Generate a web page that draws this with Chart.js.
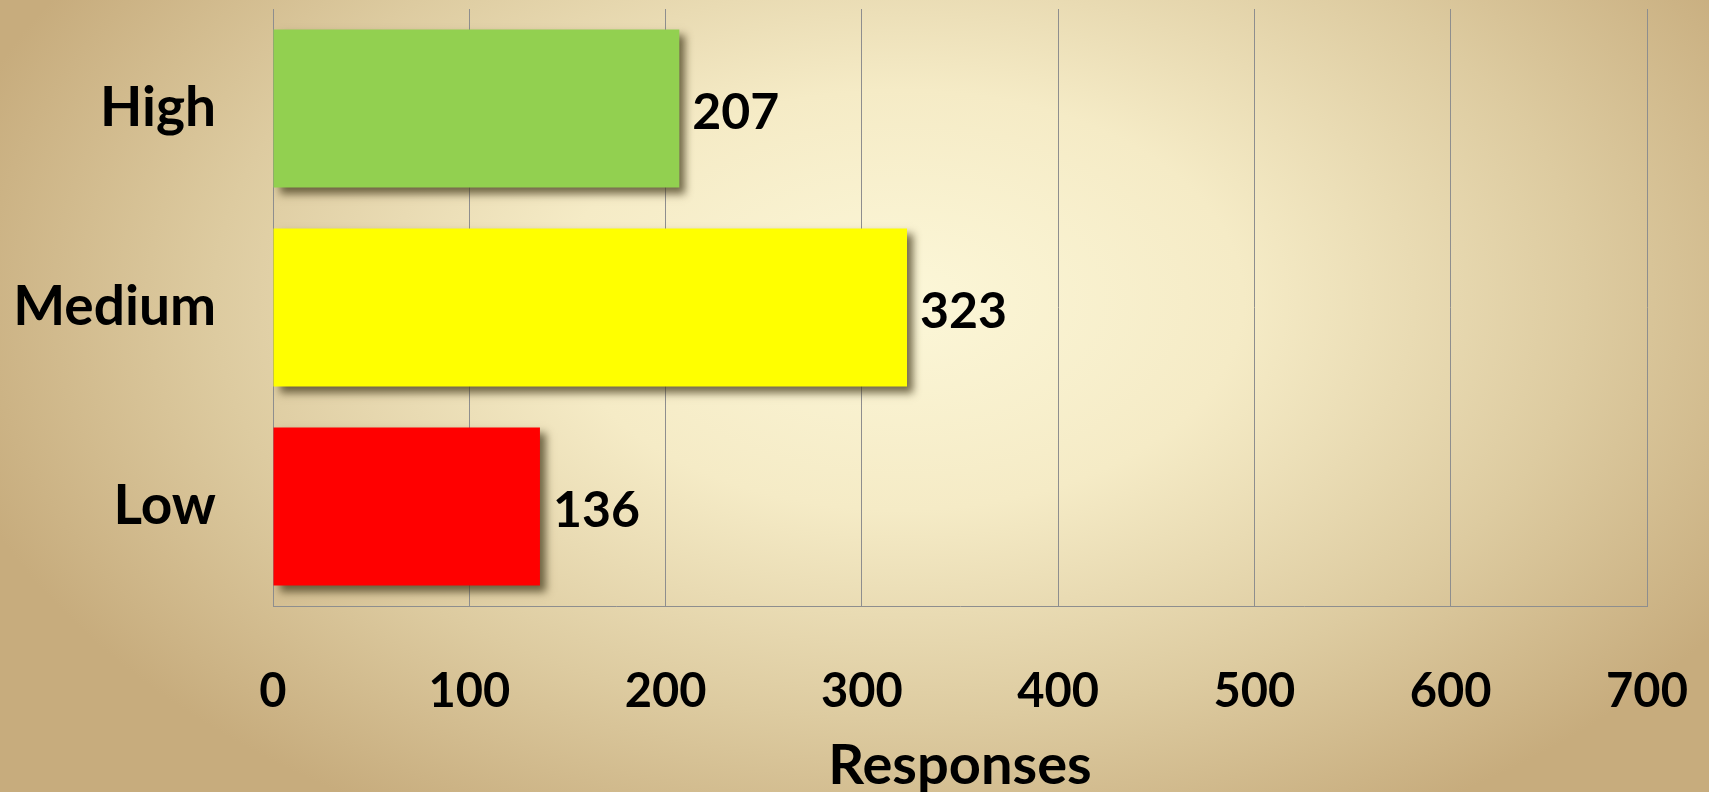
<!DOCTYPE html>
<html>
<head>
<meta charset="utf-8">
<script src="https://cdn.jsdelivr.net/npm/chart.js@4"></script>
<style>
html,body{margin:0;padding:0;overflow:hidden;background:#e6d6ad;}
#wrap{width:1709px;height:792px;}
</style>
</head>
<body>
<div id="wrap"><canvas id="c" width="1709" height="792"></canvas></div>
<script>
const categories = ["High", "Medium", "Low"];
const responses = [207, 323, 136];
const barColors = ["#92D050", "#FFFF00", "#FF0000"];
const xTicks = [0, 100, 200, 300, 400, 500, 600, 700];
const axisTitle = "Responses";

const FONT = "Lato, 'Open Sans', sans-serif";

const bgPlugin = {
  id: 'bg',
  beforeDraw(chart) {
    const ctx = chart.ctx, w = chart.width, h = chart.height;
    ctx.save();
    const cx = 900, cy = 300, rx = 980, ry = 600;
    ctx.translate(cx, cy);
    ctx.scale(1, ry / rx);
    const g = ctx.createRadialGradient(0, 0, 0, 0, 0, rx);
    g.addColorStop(0, '#FCF7D8');
    g.addColorStop(0.35, '#F5EBC6');
    g.addColorStop(0.7, '#DDCBA0');
    g.addColorStop(1, '#C7AC7D');
    ctx.fillStyle = g;
    ctx.fillRect(-cx - 10, -cy * rx / ry - 10, w + 20, h * rx / ry + 20);
    ctx.restore();
  }
};

const shadowPlugin = {
  id: 'barShadow',
  beforeDatasetsDraw(chart) {
    const ctx = chart.ctx;
    ctx.save();
    ctx.shadowColor = 'rgba(70,60,30,0.75)';
    ctx.shadowBlur = 8;
    ctx.shadowOffsetX = 6;
    ctx.shadowOffsetY = 6;
  },
  afterDatasetsDraw(chart) {
    chart.ctx.restore();
    const ctx = chart.ctx;
    const meta = chart.getDatasetMeta(0);
    ctx.save();
    ctx.font = "bold 50px " + FONT;
    ctx.fillStyle = '#000';
    ctx.textAlign = 'left';
    ctx.textBaseline = 'middle';
    meta.data.forEach((bar, i) => {
      ctx.fillText(String(responses[i]), bar.x + 13, bar.y + 4);
    });
    ctx.restore();
  }
};

new Chart(document.getElementById('c'), {
  type: 'bar',
  data: {
    labels: categories,
    datasets: [{
      data: responses,
      backgroundColor: barColors,
      borderWidth: 0,
      categoryPercentage: 1,
      barPercentage: 0.794
    }]
  },
  options: {
    indexAxis: 'y',
    responsive: false,
    animation: false,
    devicePixelRatio: 1,
    layout: { padding: { left: 0, right: 62, top: 9, bottom: 0 } },
    plugins: { legend: { display: false }, tooltip: { enabled: false } },
    scales: {
      x: {
        min: 0, max: 700,
        afterBuildTicks(scale) { scale.ticks = xTicks.map(v => ({ value: v })); },
        afterFit(scale) { scale.height = 186; scale.paddingLeft = 0; scale.paddingRight = 0; },
        grid: { color: '#8e8e8e', lineWidth: 1, drawTicks: true, tickLength: 58, tickColor: 'rgba(0,0,0,0)' },
        border: { display: true, color: '#8e8e8e', width: 1 },
        ticks: { color: '#000', font: { family: FONT, size: 47, weight: 'bold' }, padding: 0, maxRotation: 0, autoSkip: false },
        title: { display: true, text: axisTitle, color: '#000', font: { family: FONT, size: 56, weight: 'bold' }, padding: { top: 0, bottom: -8 } }
      },
      y: {
        afterFit(scale) { scale.width = 273; scale.paddingTop = 0; scale.paddingBottom = 0; },
        grid: { display: false, drawTicks: true, tickLength: 57 },
        border: { display: true, color: '#8e8e8e', width: 1 },
        ticks: { color: '#000', font: { family: FONT, size: 55, weight: 'bold' }, padding: 0 }
      }
    }
  },
  plugins: [bgPlugin, shadowPlugin]
});
</script>
</body>
</html>
